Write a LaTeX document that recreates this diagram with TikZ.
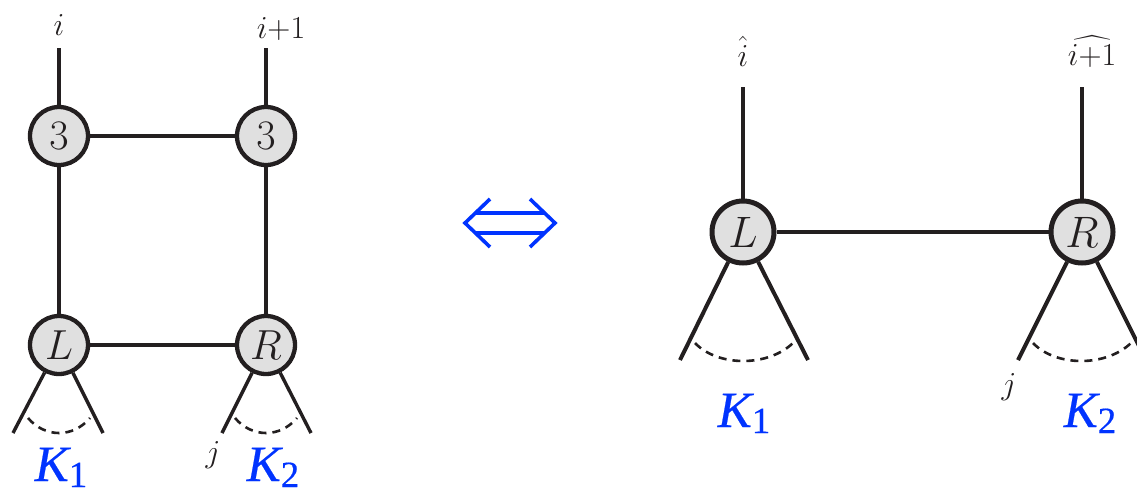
\documentclass[tikz,border=0pt]{standalone}
\usepackage{fix-cm}
\usepackage{amsmath}
\usepackage{fontspec}
\newfontfamily\kfont[FakeBold=0.4]{Liberation Serif}
\newcommand{\Klab}[1]{{\kfont\itshape K}\raisebox{-6pt}{\kfont\fontsize{37}{40}\selectfont #1}}
\definecolor{ink}{RGB}{35,31,32}
\definecolor{fillg}{RGB}{224,224,224}
\definecolor{kblue}{RGB}{0,51,255}
\tikzset{
 vtx/.style={circle, draw=ink, fill=fillg, line width=4.3pt, minimum size=58pt, inner sep=0pt, font=\fontsize{42}{48}\selectfont, text=ink},
 vtxb/.style={vtx, line width=5pt, minimum size=62pt, font=\fontsize{44}{50}\selectfont},
 edge/.style={draw=ink, line width=3.4pt},
 edgeb/.style={edge, line width=4pt},
 arcd/.style={draw=ink, line width=2.6pt, dash pattern=on 8pt off 6pt},
 lab/.style={font=\fontsize{32}{36}\selectfont, text=ink, inner sep=0pt, anchor=base},
 klab/.style={font=\fontsize{51}{56}\selectfont, text=kblue, inner sep=0pt, anchor=base},
 dblarrow/.style={draw=kblue, line width=3.6pt},
}
\begin{document}
\begin{tikzpicture}[x=1pt,y=-1pt]
\useasboundingbox (0,0) rectangle (1137,488);
% ---------- left diagram ----------
\node[vtx] (a3) at (59,136) {$3$};
\node[vtx] (b3) at (266,136) {$3$};
\node[vtx] (aL) at (59,345) {$L$};
\node[vtx] (bR) at (266,345) {$R$};
\coordinate (at) at (59,48);
\coordinate (bt) at (266,48);
\coordinate (al1) at (13,433);
\coordinate (al2) at (103,433);
\coordinate (bl1) at (222,433);
\coordinate (bl2) at (311,433);
\draw[edge] (at) -- (a3);
\draw[edge] (bt) -- (b3);
\draw[edge] (a3) -- (b3);
\draw[edge] (a3) -- (aL);
\draw[edge] (b3) -- (bR);
\draw[edge] (aL) -- (bR);
\draw[edge] (aL) -- (al1);
\draw[edge] (aL) -- (al2);
\draw[edge] (bR) -- (bl1);
\draw[edge] (bR) -- (bl2);
\draw[arcd] (28,418) .. controls (45,438) and (73,438) .. (90,418);
\draw[arcd] (235,418) .. controls (252,438) and (280,438) .. (297,418);
\node[lab] (li) at (59,35) {$i$};
\node[lab] (lii) at (281,38) {$i{+}1$};
\node[lab] (lj) at (213,462) {$j$};
\node[klab] (k1) at (61,481) {\Klab{1}};
\node[klab] (k2) at (273,481) {\Klab{2}};
% ---------- double arrow ----------
\coordinate (pl) at (465,223);
\coordinate (pr) at (555,223);
\draw[dblarrow] (490,199) -- (pl) -- (490,247);
\draw[dblarrow] (530,199) -- (pr) -- (530,247);
\draw[dblarrow] (476,213) -- (544,213);
\draw[dblarrow] (476,233) -- (544,233);
% ---------- right diagram ----------
\node[vtxb] (cL) at (743,232) {$L$};
\node[vtxb] (dR) at (1082,232) {$R$};
\coordinate (ct) at (743,87);
\coordinate (dt) at (1082,87);
\coordinate (cl1) at (680,360);
\coordinate (cl2) at (808,360);
\coordinate (dl1) at (1018,360);
\coordinate (dl2) at (1146,360);
\draw[edgeb] (ct) -- (cL);
\draw[edgeb] (dt) -- (dR);
\draw[edgeb] (cL) -- (dR);
\draw[edgeb] (cL) -- (cl1);
\draw[edgeb] (cL) -- (cl2);
\draw[edgeb] (dR) -- (dl1);
\draw[edgeb] (dR) -- (dl2);
\draw[arcd] (695,343) .. controls (718,367) and (768,367) .. (793,343);
\draw[arcd] (1033,343) .. controls (1056,367) and (1106,367) .. (1131,343);
\node[lab] (ri) at (743,66) {$\hat{i}$};
\node[lab] (rii) at (1092,65) {$\widehat{i{+}1}$};
\node[lab] (rj) at (1009,394) {$j$};
\node[klab] (rk1) at (744,427) {\Klab{1}};
\node[klab] (rk2) at (1090,427) {\Klab{2}};
\end{tikzpicture}
\end{document}
